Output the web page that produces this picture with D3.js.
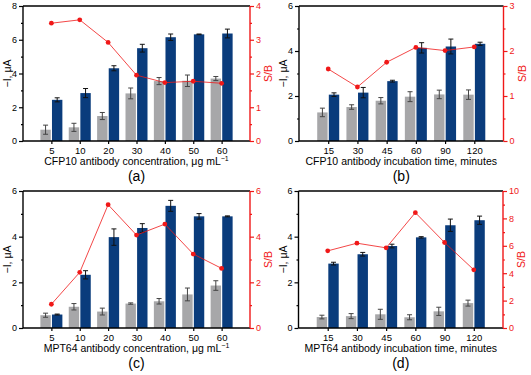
<!DOCTYPE html>
<html><head><meta charset="utf-8">
<script src="https://cdn.jsdelivr.net/npm/d3@7"></script>
<style>
body{margin:0;background:#fff;}
svg{display:block;}
text{font-family:"Liberation Sans",Arial,sans-serif;}
</style></head><body>
<svg id="c" width="531" height="375"></svg>
<script>
// ---- data ----
const catsA = ["5","10","20","30","40","50","60"];
const grayA = [0.67,0.81,1.48,2.82,3.55,3.57,3.70];
const grayErrA = [0.27,0.24,0.21,0.32,0.21,0.34,0.12];
const blueA = [2.44,2.84,4.31,5.50,6.15,6.32,6.37];
const blueErrA = [0.12,0.27,0.15,0.23,0.19,0.02,0.26];
const ratioA = [3.49,3.59,2.92,1.95,1.73,1.77,1.71];

const catsB = ["15","30","45","60","90","120"];
const grayB = [1.27,1.51,1.79,1.97,2.07,2.06];
const grayErrB = [0.19,0.10,0.14,0.22,0.19,0.21];
const blueB = [2.06,2.15,2.66,4.14,4.20,4.32];
const blueErrB = [0.08,0.23,0.04,0.23,0.33,0.07];
const ratioB = [1.60,1.20,1.75,2.08,2.01,2.09];

const catsC = ["5","10","20","30","40","50","60"];
const grayC = [0.56,0.93,0.72,1.07,1.17,1.47,1.86];
const grayErrC = [0.09,0.14,0.15,0.03,0.12,0.28,0.21];
const blueC = [0.59,2.33,3.98,4.38,5.35,4.89,4.89];
const blueErrC = [0.02,0.18,0.36,0.19,0.24,0.12,0.02];
const ratioC = [1.04,2.44,5.40,4.07,4.55,3.24,2.61];

const catsD = ["15","30","45","60","90","120"];
const grayD = [0.48,0.52,0.60,0.47,0.73,1.09];
const grayErrD = [0.08,0.11,0.22,0.11,0.18,0.13];
const blueD = [2.82,3.23,3.59,3.97,4.50,4.72];
const blueErrD = [0.06,0.08,0.08,0.03,0.27,0.18];
const ratioD = [5.63,6.19,5.85,8.42,6.24,4.25];

const xTitleA = ["CFP10 antibody concentration, μg mL","−1"];
const xTitleB = ["CFP10 antibody incubation time, minutes",""];
const xTitleC = ["MPT64 antibody concentration, μg mL","−1"];
const xTitleD = ["MPT64 antibody incubation time, minutes",""];

const svg = d3.select("#c");
const GRAY = "#a7a7a9", BLUE = "#0a3c7c", RED = "#f01818";

function panel(o){
  const g = svg.append("g");
  const n = o.cats.length;
  const x = d3.scaleLinear().domain([0, n+1]).range([o.left, o.right]);
  const y = d3.scaleLinear().domain([0, o.yMax]).range([o.bottom, o.top]);
  const y2 = d3.scaleLinear().domain([0, o.y2Max]).range([o.bottom, o.top]);
  const bw = 10.4;
  // bars
  o.cats.forEach((c,i)=>{
    const cx = x(i+1);
    g.append("rect").attr("x", cx-11).attr("width", bw).attr("y", y(o.gray[i])).attr("height", y(0)-y(o.gray[i])).attr("fill", GRAY);
    g.append("rect").attr("x", cx+0.6).attr("width", bw).attr("y", y(o.blue[i])).attr("height", y(0)-y(o.blue[i])).attr("fill", BLUE);
  });
  // error bars
  function eb(cx, v, e, col){
    const t = y(v+e), b = y(v-e);
    g.append("line").attr("x1",cx).attr("x2",cx).attr("y1",t).attr("y2",b).attr("stroke",col).attr("stroke-width",1);
    [t,b].forEach(yy=>g.append("line").attr("x1",cx-2.5).attr("x2",cx+2.5).attr("y1",yy).attr("y2",yy).attr("stroke",col).attr("stroke-width",1));
  }
  o.cats.forEach((c,i)=>{
    const cx = x(i+1);
    eb(cx-11+bw/2, o.gray[i], o.grayErr[i], "#444");
    eb(cx+0.6+bw/2, o.blue[i], o.blueErr[i], "#111");
  });
  // red line
  const line = d3.line().x((d,i)=>x(i+1)).y(d=>y2(d));
  g.append("path").datum(o.ratio).attr("d", line).attr("fill","none").attr("stroke",RED).attr("stroke-width",0.8);
  g.selectAll(null).data(o.ratio).enter().append("path")
    .attr("d", d3.symbol().type(d3.symbolCircle).size(18))
    .attr("transform",(d,i)=>`translate(${x(i+1)},${y2(d)})`).attr("fill",RED);
  // frame top & bottom
  g.append("line").attr("x1",o.left).attr("x2",o.right).attr("y1",o.top).attr("y2",o.top).attr("stroke","#000").attr("stroke-width",1.4);
  g.append("line").attr("x1",o.left).attr("x2",o.right).attr("y1",o.bottom).attr("y2",o.bottom).attr("stroke","#000").attr("stroke-width",1.4);
  // left axis
  const la = g.append("g").attr("transform",`translate(${o.left},0)`)
    .call(d3.axisLeft(y).tickValues(d3.range(0,o.yMax+0.01,o.yMajor)).tickSize(4).tickPadding(2).tickFormat(d3.format("d")));
  la.select(".domain").attr("stroke-width",1.4).attr("d",`M0,${o.top}V${o.bottom}`);
  la.selectAll("text").attr("font-size",9).attr("font-family","Liberation Sans, Arial, sans-serif");
  la.selectAll(".tick line").attr("stroke-width",1.2);
  g.append("g").attr("transform",`translate(${o.left},0)`)
    .call(d3.axisLeft(y).tickValues(d3.range(o.yMajor/2,o.yMax,o.yMajor)).tickSize(2).tickFormat(""))
    .call(s=>{s.select(".domain").remove(); s.selectAll("line").attr("stroke-width",1.2);});
  // right axis
  const ra = g.append("g").attr("transform",`translate(${o.right},0)`)
    .call(d3.axisRight(y2).tickValues(d3.range(0,o.y2Max+0.01,o.y2Major)).tickSize(4).tickPadding(2).tickFormat(d3.format("d")));
  ra.select(".domain").attr("stroke",RED).attr("stroke-width",1.4).attr("d",`M0,${o.top}V${o.bottom}`);
  ra.selectAll(".tick line").attr("stroke",RED).attr("stroke-width",1.2);
  ra.selectAll("text").attr("fill",RED).attr("font-size",9).attr("font-family","Liberation Sans, Arial, sans-serif");
  g.append("g").attr("transform",`translate(${o.right},0)`)
    .call(d3.axisRight(y2).tickValues(d3.range(o.y2Major/2,o.y2Max,o.y2Major)).tickSize(2).tickFormat(""))
    .call(s=>{s.select(".domain").remove(); s.selectAll("line").attr("stroke",RED).attr("stroke-width",1.2);});
  // bottom axis
  const ba = g.append("g").attr("transform",`translate(0,${o.bottom})`)
    .call(d3.axisBottom(x).tickValues(d3.range(1,n+1)).tickSize(3).tickPadding(3).tickFormat(d=>o.cats[d-1]));
  ba.select(".domain").remove();
  ba.selectAll(".tick line").attr("stroke-width",1.2);
  ba.selectAll("text").attr("font-size",9.5).attr("font-family","Liberation Sans, Arial, sans-serif");
  // titles
  const mid = (o.left+o.right)/2;
  const xt = g.append("text").attr("x",mid).attr("y",o.bottom+24).attr("text-anchor","middle").attr("font-size",10.5);
  xt.append("tspan").text(o.xTitle[0]);
  if(o.xTitle[1]) xt.append("tspan").attr("dy",-4).attr("font-size",7).text(o.xTitle[1]);
  g.append("text").attr("x",mid).attr("y",o.bottom+40).attr("text-anchor","middle")
    .attr("font-family","Liberation Serif, Times New Roman, serif").attr("font-size",14).text(o.label);
  g.append("text").attr("transform",`translate(${o.left-12},${(o.top+o.bottom)/2}) rotate(-90)`)
    .attr("text-anchor","middle").attr("font-size",10.5).text("−I, μA");
  g.append("text").attr("transform",`translate(${o.right+22},${(o.top+o.bottom)/2}) rotate(-90)`)
    .attr("text-anchor","middle").attr("font-size",10.5).attr("fill",RED).text("S/B");
}

panel({cats:catsA,gray:grayA,grayErr:grayErrA,blue:blueA,blueErr:blueErrA,ratio:ratioA,
  left:23,right:250,top:6,bottom:141,yMax:8,yMajor:2,y2Max:4,y2Major:1,xTitle:xTitleA,label:"(a)"});
panel({cats:catsB,gray:grayB,grayErr:grayErrB,blue:blueB,blueErr:blueErrB,ratio:ratioB,
  left:299,right:503.5,top:6,bottom:141,yMax:6,yMajor:2,y2Max:3,y2Major:1,xTitle:xTitleB,label:"(b)"});
panel({cats:catsC,gray:grayC,grayErr:grayErrC,blue:blueC,blueErr:blueErrC,ratio:ratioC,
  left:23,right:250,top:191,bottom:328,yMax:6,yMajor:2,y2Max:6,y2Major:2,xTitle:xTitleC,label:"(c)"});
panel({cats:catsD,gray:grayD,grayErr:grayErrD,blue:blueD,blueErr:blueErrD,ratio:ratioD,
  left:298.5,right:503,top:191,bottom:328,yMax:6,yMajor:2,y2Max:10,y2Major:2,xTitle:xTitleD,label:"(d)"});
</script></body></html>
